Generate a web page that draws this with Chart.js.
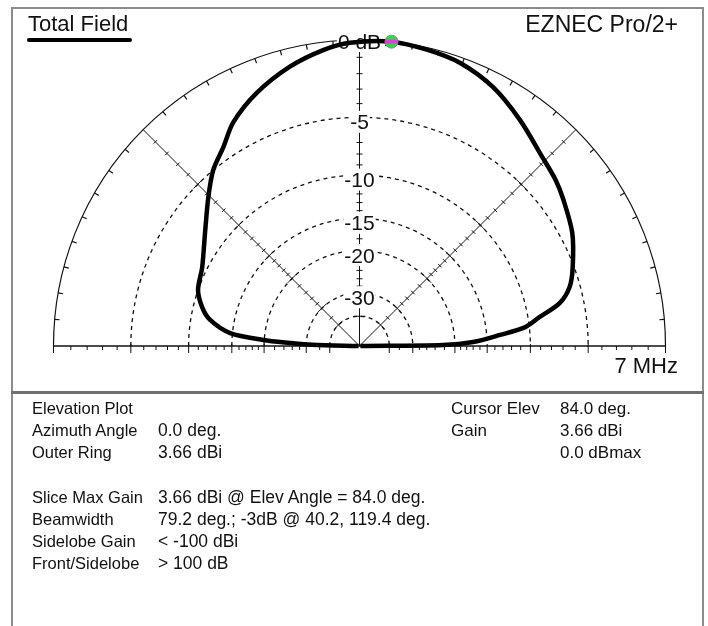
<!DOCTYPE html>
<html>
<head>
<meta charset="utf-8">
<title>Total Field - Elevation Plot</title>
<script src="https://cdn.jsdelivr.net/npm/chart.js@4.4.1/dist/chart.umd.min.js"></script>
<style>
  html, body { margin: 0; padding: 0; background: #fff; }
  #wrap { position: relative; width: 708px; height: 626px; overflow: hidden;
          font-family: "Liberation Sans", Arial, sans-serif; color: #111; }
  #plot { position: absolute; left: 0; top: 0; }
  .frame { position: absolute; background: #8c8c8c; }
  .t { position: absolute; white-space: nowrap; line-height: 1; }
  .big { font-size: 22px; }
  .info { font-size: 17px; }
  .lbl { font-size: 16.5px; }
  .val { font-size: 17.5px; }
  #legendBar { position: absolute; left: 27px; top: 38px; width: 105px; height: 4px;
               background: #000; border-radius: 2px; }
</style>
</head>
<body>
<div id="wrap">
  <canvas id="plot" width="708" height="626"></canvas>

  <div class="frame" style="left:11px;top:7px;width:2px;height:619px"></div>
  <div class="frame" style="left:11px;top:7px;width:693px;height:2px"></div>
  <div class="frame" style="left:702px;top:7px;width:2px;height:619px"></div>
  <div class="frame" style="left:11px;top:391px;width:693px;height:3px;background:#707070"></div>

  <div class="t big" style="left:28px;top:13px">Total Field</div>
  <div id="legendBar"></div>
  <div class="t big" style="right:30px;top:13px;font-size:23px">EZNEC Pro/2+</div>
  <div class="t big" style="right:30px;top:355px">7 MHz</div>

  <div class="t lbl" style="left:32px;top:400px">Elevation Plot</div>
  <div class="t lbl" style="left:32px;top:422px">Azimuth Angle</div>
  <div class="t val" style="left:158px;top:422px">0.0 deg.</div>
  <div class="t lbl" style="left:32px;top:444px">Outer Ring</div>
  <div class="t val" style="left:158px;top:444px">3.66 dBi</div>

  <div class="t lbl" style="left:32px;top:489px">Slice Max Gain</div>
  <div class="t val" style="left:158px;top:489px">3.66 dBi @ Elev Angle = 84.0 deg.</div>
  <div class="t lbl" style="left:32px;top:511px">Beamwidth</div>
  <div class="t val" style="left:158px;top:511px">79.2 deg.; -3dB @ 40.2, 119.4 deg.</div>
  <div class="t lbl" style="left:32px;top:533px">Sidelobe Gain</div>
  <div class="t val" style="left:158px;top:533px">&lt; -100 dBi</div>
  <div class="t lbl" style="left:32px;top:555px">Front/Sidelobe</div>
  <div class="t val" style="left:158px;top:555px">&gt; 100 dB</div>

  <div class="t info" style="left:451px;top:400px">Cursor Elev</div>
  <div class="t info" style="left:560px;top:400px">84.0 deg.</div>
  <div class="t info" style="left:451px;top:422px">Gain</div>
  <div class="t info" style="left:560px;top:422px">3.66 dBi</div>
  <div class="t info" style="left:560px;top:444px">0.0 dBmax</div>
</div>

<script>
// Elevation angle (deg, 0 = right horizon, 180 = left horizon)
const elevDeg = [0, 0.7, 2.0, 4.5, 6.5, 9.1, 12.1, 15.7, 20.3, 28.0, 35.7, 40.2, 46.0,
                 54.6, 62.7, 70.4, 77.2, 84.0, 91.8, 97.0, 104.0, 112.1, 119.4, 124.4,
                 129.8, 135.5, 143.8, 153.4, 160.9, 166.1, 170.1, 174.3, 176.4, 177.5,
                 178.6, 180];
// Gain relative to the pattern maximum (dBmax)
const gainDbMax = [-100, -22.3, -17.0, -13.3, -10.4, -8.9, -6.9, -5.8, -5.1, -4.1, -3.4,
                   -3.0, -2.6, -1.7, -0.85, -0.32, -0.12, 0, -0.15, -0.45, -1.05, -1.95,
                   -3.0, -4.1, -5.0, -6.3, -8.05, -9.5, -10.0, -10.9, -12.05, -14.7,
                   -19.8, -25.4, -32, -100];

// Scale rings (dB below outer ring) and their labels
const ringDb = [-5, -10, -15, -20, -30, -40];
const ringLabelDb = [-5, -10, -15, -20, -30];
const ringLabels = ['-5', '-10', '-15', '-20', '-30'];
const outerLabel = '0 dB';
const radialAngles = [45, 135];
// minor tick positions along the axes (dB)
const minorTickDb = [-1, -2, -3, -4, -6, -7, -8, -9, -11, -12, -13, -14, -16, -17, -18, -19,
                     -22, -24, -26, -28, -35];

// Cursor
const cursorElev = [84.0];
const cursorDb = [0];

// ARRL log scale: radius shrinks by 0.89 for every 2 dB
function arrl(db) { return Math.pow(0.89, -Math.max(db, -100) / 2); }
function toXY(angleDeg, db) {
  const t = angleDeg * Math.PI / 180, r = arrl(db);
  return { x: r * Math.cos(t), y: r * Math.sin(t) };
}

const patternPts = elevDeg.map((a, i) => toXY(a, gainDbMax[i]));
const cursorPts = cursorElev.map((a, i) => toXY(a, cursorDb[i]));

const polarGrid = {
  id: 'polarGrid',
  beforeDatasetsDraw(chart) {
    const { ctx, scales: { x, y } } = chart;
    const cx = x.getPixelForValue(0);
    const cy = y.getPixelForValue(0);
    const R = x.getPixelForValue(1) - cx;
    const rOf = db => R * arrl(db);
    const seg = (x1, y1, x2, y2) => { ctx.beginPath(); ctx.moveTo(x1, y1); ctx.lineTo(x2, y2); ctx.stroke(); };
    const allTicks = minorTickDb.map(d => [d, false]).concat(ringDb.map(d => [d, true]));
    ctx.save();
    ctx.strokeStyle = '#111';

    // dashed rings
    ctx.lineWidth = 1.3;
    ctx.setLineDash([4, 4]);
    ringDb.forEach(db => { ctx.beginPath(); ctx.arc(cx, cy, rOf(db), Math.PI, 2 * Math.PI); ctx.stroke(); });
    ctx.setLineDash([]);

    // outer ring with 5-degree ticks
    ctx.lineWidth = 1.2;
    ctx.beginPath(); ctx.arc(cx, cy, R, Math.PI, 2 * Math.PI); ctx.stroke();
    for (let a = 5; a < 180; a += 5) {
      if (a % 45 === 0) continue;
      const t = a * Math.PI / 180, c = Math.cos(t), s = Math.sin(t);
      seg(cx + R * c, cy - R * s, cx + (R - 5) * c, cy - (R - 5) * s);
    }

    // radial lines with dB ticks
    ctx.lineWidth = 1;
    radialAngles.forEach(a => {
      const t = a * Math.PI / 180, c = Math.cos(t), s = Math.sin(t);
      seg(cx, cy, cx + R * c, cy - R * s);
      allTicks.forEach(([d, ring]) => {
        const r = rOf(d), px = cx + r * c, py = cy - r * s;
        const h = ring ? 6 : 2.5;
        seg(px - h * s, py - h * c, px + h * s, py + h * c);
      });
    });

    // vertical axis
    seg(cx, cy, cx, cy - R);
    allTicks.forEach(([d, ring]) => {
      const py = cy - rOf(d);
      const h = ring ? 6 : 3;
      seg(cx - h, py, cx + h, py);
    });

    // horizon baseline with ticks
    ctx.lineWidth = 1.6;
    seg(cx - R, cy, cx + R, cy);
    ctx.lineWidth = 1;
    allTicks.concat([[0, true]]).forEach(([d, ring]) => {
      const r = rOf(d);
      [-1, 1].forEach(sg => seg(cx + sg * r, cy - (ring ? 2 : 0), cx + sg * r, cy + (ring ? 7 : 4)));
    });

    // ring labels on white boxes
    ctx.font = '21px "Liberation Sans", Arial, sans-serif';
    ctx.textAlign = 'center';
    ctx.textBaseline = 'alphabetic';
    const label = (txt, capMid) => {
      const w = ctx.measureText(txt).width;
      ctx.fillStyle = '#fff';
      ctx.fillRect(cx - w / 2 - 1, capMid - 11, w + 2, 22);
      ctx.fillStyle = '#111';
      ctx.fillText(txt, cx, capMid + 7.5);
    };
    ringLabelDb.forEach((db, i) => label(ringLabels[i], cy - rOf(db) + 4.5));
    label(outerLabel, cy - R + 1);
    ctx.restore();
  }
};

// pixel frame: centre of the plot at (359.5, 346), outer ring radius 306 px
const W = 708, H = 626, CX = 359.5, CY = 346, RPX = 306;

new Chart(document.getElementById('plot'), {
  type: 'scatter',
  data: {
    datasets: [
      { data: cursorPts, pointStyle: 'line', pointRadius: 6.5, borderColor: '#e03ce0',
        pointBorderWidth: 4, showLine: false, order: 0 },
      { data: cursorPts, pointStyle: 'circle', pointRadius: 6.5, backgroundColor: '#35d64a',
        borderColor: '#7a9a7a', pointBorderWidth: 1, showLine: false, order: 1 },
      { label: 'Total Field', data: patternPts, showLine: true, borderColor: '#000',
        borderWidth: 4.5, pointRadius: 0, tension: 0.3, fill: false, order: 2 }
    ]
  },
  options: {
    responsive: false,
    animation: false,
    events: [],
    layout: { padding: 0, autoPadding: false },
    plugins: { legend: { display: false }, tooltip: { enabled: false } },
    scales: {
      x: { type: 'linear', display: false, min: -CX / RPX, max: (W - CX) / RPX },
      y: { type: 'linear', display: false, min: -(H - CY) / RPX, max: CY / RPX }
    }
  },
  plugins: [polarGrid]
});
</script>
</body>
</html>
